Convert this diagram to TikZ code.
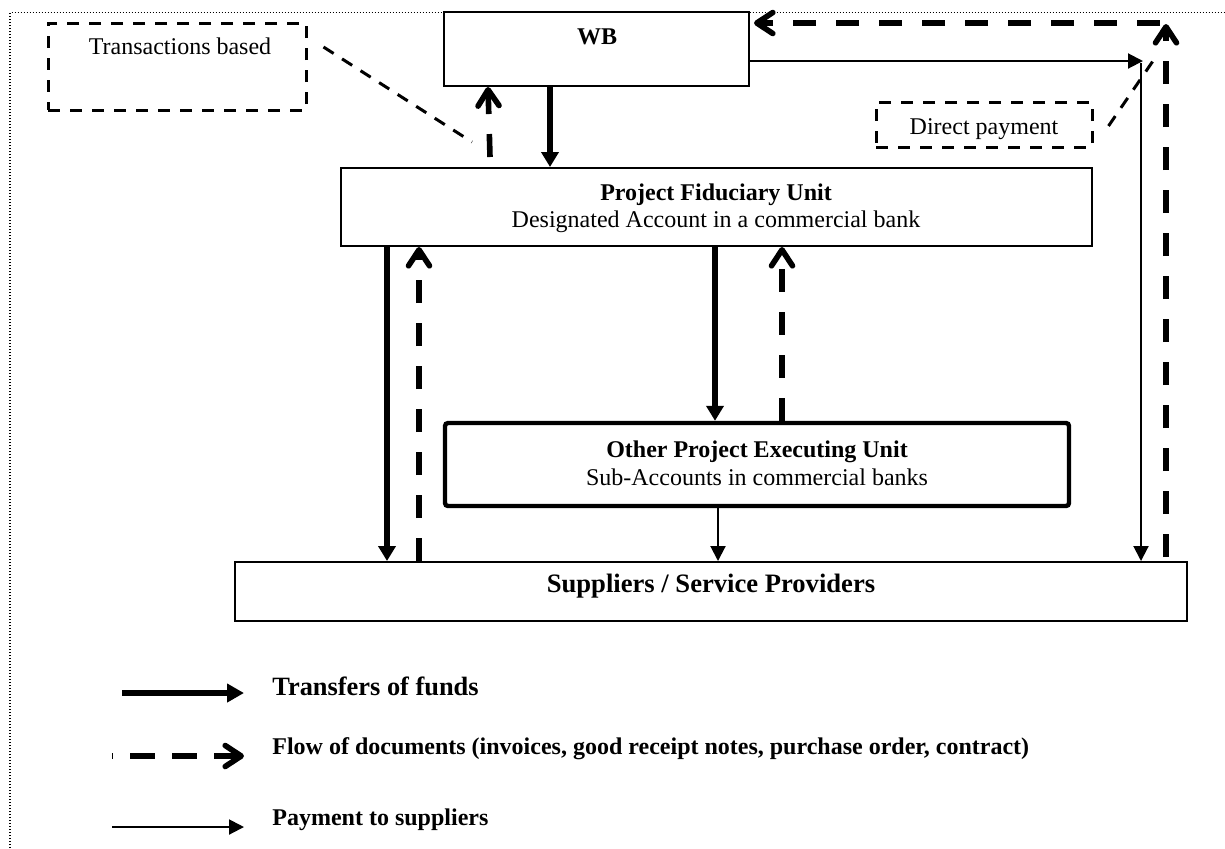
\documentclass[tikz,border=0pt]{standalone}
\usepackage{fontspec}
\setmainfont{Liberation Serif}
\usetikzlibrary{arrows.meta,calc}
\begin{document}
\begin{tikzpicture}[x=0.5pt,y=-0.5pt,
  box/.style={draw, line width=1pt, inner sep=0pt},
  notebox/.style={draw, line width=1.5pt, dash pattern=on 6pt off 5pt, inner sep=0pt},
  execbox/.style={draw, line width=2.2pt, rounded corners=1.5pt, inner sep=0pt},
  txt/.style={inner sep=0pt, anchor=base, font=\fontsize{12}{14}\selectfont},
  btxt/.style={inner sep=0pt, anchor=base, font=\fontsize{12}{14}\selectfont\bfseries},
  fund/.style={line width=2.8pt, -{Triangle[length=7.5pt,width=8.5pt]}},
  doc/.style={line width=2.8pt, dash pattern=on 11.5pt off 10pt, -{Straight Barb[length=8pt,width=10.5pt,round]}},
  pay/.style={line width=1pt, -{Triangle[length=7.5pt,width=7.5pt]}},
  note/.style={line width=1.5pt, dash pattern=on 6pt off 5pt},
  frame/.style={line width=0.6pt, dash pattern=on 0.6pt off 0.9pt}
]
\useasboundingbox (0,0) rectangle (1225,848);
\fill[white] (0,0) rectangle (1225,848);
\draw[frame] (10,848) -- (10,12.7) -- (1225,12.7);

% boxes
\node[notebox, minimum width=129pt, minimum height=43.5pt] (tb) at (177,66.5) {};
\node[box, minimum width=152.5pt, minimum height=37pt] (wb) at (596.5,49) {};
\node[notebox, minimum width=108pt, minimum height=22.5pt] (dp) at (984,124.5) {};
\node[box, minimum width=375.5pt, minimum height=39pt] (pfu) at (716.5,207) {};
\node[execbox, minimum width=312pt, minimum height=41.5pt] (opeu) at (757,464.5) {};
\node[box, minimum width=476pt, minimum height=29.5pt] (sup) at (711,591.5) {};

% texts
\node[txt] (tbt) at (180,54) {Transactions based};
\node[btxt] (wbt) at (597,44) {WB};
\node[txt] (dpt) at (984,134) {Direct payment};
\node[btxt] (pfu1) at (716,200) {Project Fiduciary Unit};
\node[txt] (pfu2) at (716,227) {Designated Account in a commercial bank};
\node[btxt] (op1) at (757,457) {Other Project Executing Unit};
\node[txt] (op2) at (757,485) {Sub-Accounts in commercial banks};
\node[inner sep=0pt, anchor=base, font=\fontsize{13.3}{16}\selectfont\bfseries] (supt) at (711,592) {Suppliers / Service Providers};

% helper coordinates
\coordinate (xf1) at (550,0);
\coordinate (xd1) at (488,0);
\coordinate (xf2) at (387,0);
\coordinate (xd2) at (419,0);
\coordinate (xf3) at (715,0);
\coordinate (xd3) at (782,0);
\coordinate (xp1) at (718,0);
\coordinate (pc) at (1141,61);
\coordinate (dc) at (1166,24);
\coordinate (tbx) at (472,142);
\coordinate (dpx) at (1155,58);

% connectors
\draw[fund] (wb.south -| xf1) -- (pfu.north -| xf1);
\draw[doc] ($(pfu.north -| xd1)+(2,-10)$) -- (wb.south -| xd1);
\draw[note] ($(tb.east)+(16,-19.5)$) -- (tbx);
\draw[pay] (wb.east |- pc) -- ($(pc)+(2,0)$);
\draw[pay] ($(pc)+(0,2)$) -- (sup.north -| pc);
\draw[doc] ($(sup.north -| dc)+(0,-4)$) -- (dc);
\draw[doc] ($(dc)+(-6,-1)$) -- ($(wb.east |- dc)+(4,-1)$);
\draw[note] ($(dp.east)+(15,1.5)$) -- (dpx);
\draw[fund] (pfu.south -| xf2) -- (sup.north -| xf2);
\draw[doc] (sup.north -| xd2) -- (pfu.south -| xd2);
\draw[fund] (pfu.south -| xf3) -- (opeu.north -| xf3);
\draw[doc] (opeu.north -| xd3) -- (pfu.south -| xd3);
\draw[pay] (opeu.south -| xp1) -- (sup.north -| xp1);

% legend
\coordinate (l1s) at (122,693); \coordinate (l1e) at (244,693);
\coordinate (l2s) at (112,756); \coordinate (l2e) at (244,756);
\coordinate (l3s) at (112,827); \coordinate (l3e) at (244,827);
\draw[line width=2.8pt, -{Triangle[length=8.5pt,width=9pt]}] (l1s) -- (l1e);
\draw[doc, dash pattern=on 12.5pt off 8.5pt, dash phase=12pt] (l2s) -- (l2e);
\draw[pay] (l3s) -- (l3e);
\node[inner sep=0pt, anchor=base west, font=\fontsize{13.2}{16}\selectfont\bfseries] (l1) at (272,695) {Transfers of funds};
\node[inner sep=0pt, anchor=base west, font=\fontsize{12}{14}\selectfont\bfseries] (l2) at (272,754) {Flow of documents (invoices, good receipt notes, purchase order, contract)};
\node[inner sep=0pt, anchor=base west, font=\fontsize{12}{14}\selectfont\bfseries] (l3) at (272,825) {Payment to suppliers};
\end{tikzpicture}
\end{document}
